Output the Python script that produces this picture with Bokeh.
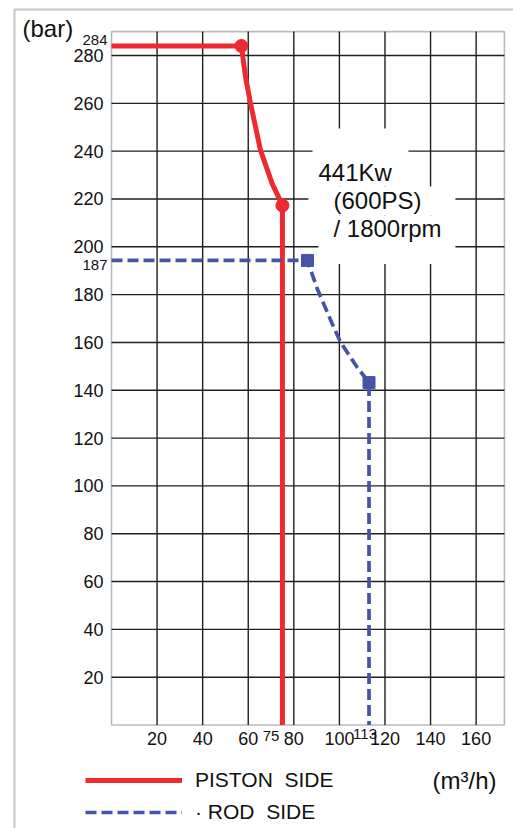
from bokeh.plotting import figure
from bokeh.models import Range1d, FixedTicker, Label, BoxAnnotation, Legend, LegendItem
from bokeh.embed import file_html
from bokeh.resources import INLINE

# ---- data ----
x_ticks = [20, 40, 60, 80, 100, 120, 140, 160]
y_ticks = [20, 40, 60, 80, 100, 120, 140, 160, 180, 200, 220, 240, 260, 280]

piston_flow = [0, 57, 58.8, 61, 65.4, 70.5, 75, 75]
piston_pressure = [284, 284, 271, 260, 240.3, 226.4, 217.3, 0]
piston_marker_flow = [57, 75]
piston_marker_pressure = [284, 217.3]

rod_flow = [0, 86, 90, 96.8, 100.5, 107.8, 113, 113]
rod_pressure = [194.3, 194.3, 183.1, 167.9, 160.1, 149.6, 143.2, 0]
rod_marker_flow = [86, 113]
rod_marker_pressure = [194.3, 143.2]

extra_y_labels = ["284", "187"]
extra_x_labels = ["75", "113"]
power_text = ["441Kw", "(600PS)", "/ 1800rpm"]

X_MAX = 172.4
Y_MAX = 290

RED = "#ED2A2F"
BLUE = "#4753A6"
INK = "#111111"
FONT = "Liberation Sans"

# page layout (pixels): figure canvas at (0, 0)
W, H = 513, 828
X0_PX, X_SCALE = 111, 2.279      # data x=0 position inside canvas, px per unit
Y0_PX, Y_SCALE = 724.5, 2.391    # data y=0 position inside canvas, px per unit

x_range = Range1d(-X0_PX / X_SCALE, (W - X0_PX) / X_SCALE)
y_range = Range1d(-(H - Y0_PX) / Y_SCALE, Y0_PX / Y_SCALE)

p = figure(width=W, height=H, output_backend="svg", toolbar_location=None,
           x_range=x_range, y_range=y_range,
           min_border_left=0, min_border_right=0, min_border_top=0, min_border_bottom=0)
p.background_fill_color = "white"
p.border_fill_color = "white"
p.outline_line_color = None
p.grid.visible = False

for ax, ticks in ((p.xaxis[0], x_ticks), (p.yaxis[0], y_ticks)):
    ax.ticker = FixedTicker(ticks=ticks)
    ax.fixed_location = 0
    ax.axis_line_color = None
    ax.major_tick_line_color = None
    ax.minor_tick_line_color = None
    ax.major_tick_out = 0
    ax.major_tick_in = 0
    ax.major_label_text_font = FONT
    ax.major_label_text_font_size = "18px"
    ax.major_label_text_color = INK
p.yaxis.major_label_standoff = 8
p.xaxis.major_label_standoff = 7

# grid lines, bounded to the plotting box
p.segment(x0=0, x1=X_MAX, y0=y_ticks, y1=y_ticks, line_color="#1f1f1f", line_width=1.4, level="image")
p.segment(x0=x_ticks, x1=x_ticks, y0=0, y1=Y_MAX, line_color="#1f1f1f", line_width=1.4, level="image")

# white patches behind the power text
for l, r, b, t in ((88.2, 130.3, 225.2, 249.5), (86.4, 150.9, 213.1, 225.2), (90.8, 150.9, 192.8, 213.1)):
    p.add_layout(BoxAnnotation(left=l, right=r, bottom=b, top=t, fill_color="white", fill_alpha=1,
                               line_color=None, level="underlay"))

# plotting box outline
p.add_layout(BoxAnnotation(left=0, right=X_MAX, bottom=0, top=Y_MAX, fill_alpha=0,
                           line_color="#1a1a1a", line_width=1.6, level="underlay"))
# outer drawing border (left and top visible)
p.add_layout(BoxAnnotation(left=-42.56, right=X_MAX + 40, bottom=-80, top=299.25, fill_alpha=0,
                           line_color="#444444", line_width=2, level="underlay"))

r_piston = p.line(piston_flow, piston_pressure, line_color=RED, line_width=5)
p.scatter(piston_marker_flow, piston_marker_pressure, marker="circle", size=13,
          fill_color=RED, line_color=RED)
r_rod = p.line(rod_flow, rod_pressure, line_color=BLUE, line_width=3.7, line_dash="11 5")
p.scatter(rod_marker_flow, rod_marker_pressure, marker="square", size=12,
          fill_color=BLUE, line_color=BLUE)

# power text
for txt, xx, yy in zip(power_text, [90.8, 97.4, 97.4], [231.2, 219.4, 207.5]):
    p.add_layout(Label(x=xx, y=yy, text=txt, text_font=FONT, text_font_size="24px",
                       text_baseline="middle", text_align="left", text_color=INK))

# small extra tick labels
SMALL = "15px"
p.add_layout(Label(x=0, y=286.3, x_offset=-4, text=extra_y_labels[0], text_font=FONT,
                   text_font_size=SMALL, text_align="right", text_baseline="middle", text_color=INK))
p.add_layout(Label(x=0, y=192.5, x_offset=-4, text=extra_y_labels[1], text_font=FONT,
                   text_font_size=SMALL, text_align="right", text_baseline="middle", text_color=INK))
p.add_layout(Label(x=75, y=-4.4, x_offset=-3, text=extra_x_labels[0], text_font=FONT,
                   text_font_size=SMALL, text_align="right", text_baseline="middle", text_color=INK))
p.add_layout(Label(x=113, y=-3.6, x_offset=-4, text=extra_x_labels[1], text_font=FONT,
                   text_font_size=SMALL, text_align="center", text_baseline="middle", text_color=INK))

# axis units
p.add_layout(Label(x=0, y=291.3, x_offset=-89, text="(bar)", text_font=FONT, text_font_size="24px",
                   text_align="left", text_baseline="middle", text_color=INK))
p.add_layout(Label(x=140.9, y=-23.2, text="(m³/h)", text_font=FONT, text_font_size="24px",
                   text_align="left", text_baseline="middle", text_color=INK))

legend = Legend(items=[LegendItem(label="PISTON\u00a0\u00a0SIDE", renderers=[r_piston]),
                       LegendItem(label="\u00b7\u00a0ROD\u00a0\u00a0SIDE", renderers=[r_rod])],
                location=(85, 4), orientation="vertical", glyph_width=97, glyph_height=20,
                label_height=20, spacing=8, label_standoff=13, padding=0, margin=0,
                border_line_color=None, background_fill_alpha=0,
                label_text_font=FONT, label_text_font_size="21px", label_text_color=INK)
p.add_layout(legend)

open("out.html", "w").write(file_html(p, INLINE))
